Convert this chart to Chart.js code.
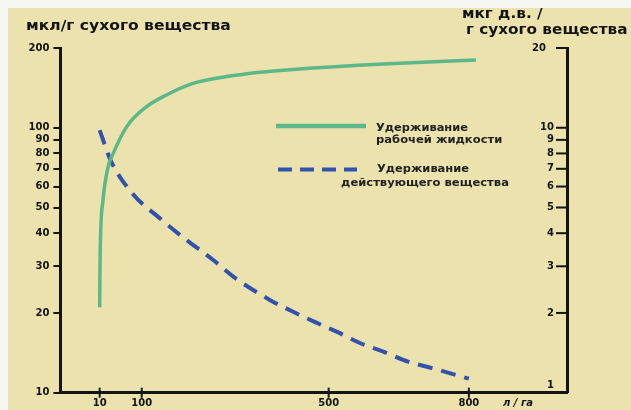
<!DOCTYPE html>
<html>
<head>
<meta charset="utf-8">
<script src="https://cdn.jsdelivr.net/npm/chart.js@4/dist/chart.umd.min.js"></script>
<style>
  html, body { margin: 0; padding: 0; background: #ffffff; }
  #wrap { position: relative; width: 631px; height: 410px; }
</style>
</head>
<body>
<div id="wrap"><canvas id="chart" width="631" height="410"></canvas></div>
<script>
// Application rate, л / га
const rateTicks = [10, 100, 500, 800];
// Left axis: мкл/г сухого вещества
const liquidTicks = [10, 20, 30, 40, 50, 60, 70, 80, 90, 100, 200];
// Right axis: мкг д.в. / г сухого вещества
const activeTicks = [1, 2, 3, 4, 5, 6, 7, 8, 9, 10, 20];

// Удерживание рабочей жидкости (left axis)
const liquidRate      = [10, 11, 17, 28, 39, 68, 110, 153, 210, 282, 353, 424, 617, 815];
const liquidRetention = [21, 33, 53, 71, 80, 101, 120, 133, 147, 156, 162, 166, 174, 180];

// Удерживание действующего вещества (right axis)
const activeRate      = [10, 34, 82, 139, 189, 253, 296, 374, 424, 470, 517, 567, 617, 670, 720, 800];
const activeRetention = [9.8, 7.5, 5.6, 4.55, 3.85, 3.17, 2.74, 2.24, 2.02, 1.85, 1.70, 1.54, 1.43, 1.31, 1.24, 1.13];

const legendLabels = [
  ['Удерживание', 'рабочей жидкости'],
  ['Удерживание', 'действующего вещества']
];
const leftTitle = 'мкл/г сухого вещества';
const rightTitle = ['мкг д.в. /', 'г сухого вещества'];
const rateUnit = 'л / га';

const INK = '#141414';
const GREEN = '#5cb888';
const BLUE = '#3352ad';
const FONT = '"DejaVu Sans", "Liberation Sans", sans-serif';

const toPoints = (xs, ys) => xs.map((x, i) => ({ x: x, y: ys[i] }));

// text drawn slightly widened horizontally
function wideText(ctx, text, x, y, sx) {
  ctx.save();
  ctx.translate(x, y);
  ctx.scale(sx, 1);
  ctx.fillText(text, 0, 0);
  ctx.restore();
}

const decor = {
  id: 'decor',
  beforeDraw(chart) {
    const { ctx, width, height } = chart;
    ctx.save();
    ctx.fillStyle = '#f6f6f3';
    ctx.fillRect(0, 0, width, height);
    ctx.fillStyle = '#ebe2ae';
    ctx.fillRect(8, 8, width - 8, height - 8);
    ctx.restore();
  },
  afterDraw(chart) {
    const { ctx, chartArea: a, scales } = chart;
    const line = (x1, y1, x2, y2) => { ctx.beginPath(); ctx.moveTo(x1, y1); ctx.lineTo(x2, y2); ctx.stroke(); };
    ctx.save();
    ctx.fillStyle = INK;
    ctx.strokeStyle = INK;
    ctx.lineWidth = 2;

    // marks crossing the rate axis
    scales.x.ticks.forEach(t => {
      const px = scales.x.getPixelForValue(t.value);
      line(px, a.bottom - 5, px, a.bottom + 5);
    });

    // right axis: inward marks and labels
    ctx.font = 'bold 10px ' + FONT;
    ctx.textAlign = 'right';
    ctx.textBaseline = 'middle';
    scales.y2.ticks.forEach(t => {
      const py = scales.y2.getPixelForValue(t.value);
      if (t.value > 1) {
        line(a.right - 11, py, a.right, py);
        ctx.fillText(String(t.value), a.right - (t.value >= 20 ? 21 : 13), py);
      } else {
        ctx.fillText(String(t.value), a.right - 13, py - 7);
      }
    });

    // axis titles
    ctx.font = 'bold 14px ' + FONT;
    ctx.textAlign = 'left';
    wideText(ctx, leftTitle, 26, 26, 1.11);
    wideText(ctx, rightTitle[0], 462, 14, 1.09);
    wideText(ctx, rightTitle[1], 466, 30, 1.09);

    ctx.font = 'italic bold 10px ' + FONT;
    ctx.fillText(rateUnit, 503, 403);

    // legend
    ctx.lineWidth = 4.5;
    ctx.strokeStyle = GREEN;
    line(276, 126, 366, 126);
    ctx.lineWidth = 4;
    ctx.strokeStyle = BLUE;
    ctx.setLineDash([14, 8]);
    line(278, 169.5, 357, 169.5);
    ctx.setLineDash([]);

    ctx.font = 'bold 11px ' + FONT;
    ctx.fillStyle = '#222';
    ctx.textAlign = 'left';
    wideText(ctx, legendLabels[0][0], 376, 128, 1.04);
    wideText(ctx, legendLabels[0][1], 376, 140, 1.05);
    ctx.textAlign = 'center';
    wideText(ctx, legendLabels[1][0], 423, 169, 1.04);
    wideText(ctx, legendLabels[1][1], 425, 183, 1.05);
    ctx.restore();
  }
};

const tickFont = { family: FONT, weight: 'bold', size: 10 };

new Chart(document.getElementById('chart'), {
  type: 'line',
  data: {
    datasets: [
      {
        label: legendLabels[0].join(' '),
        data: toPoints(liquidRate, liquidRetention),
        yAxisID: 'y',
        borderColor: GREEN,
        borderWidth: 3.5,
        pointRadius: 0,
        cubicInterpolationMode: 'monotone',
        fill: false
      },
      {
        label: legendLabels[1].join(' '),
        data: toPoints(activeRate, activeRetention),
        yAxisID: 'y2',
        borderColor: BLUE,
        borderWidth: 4,
        borderDash: [15, 9],
        pointRadius: 0,
        cubicInterpolationMode: 'monotone',
        fill: false
      }
    ]
  },
  options: {
    responsive: false,
    animation: false,
    events: [],
    layout: { autoPadding: false, padding: { top: 48, left: 0, right: 0, bottom: 0 } },
    plugins: { legend: { display: false }, tooltip: { enabled: false } },
    scales: {
      x: {
        type: 'linear',
        position: 'bottom',
        min: -74,
        max: 1010,
        afterBuildTicks: s => { s.ticks = rateTicks.map(v => ({ value: v })); },
        afterFit: s => { s.height = 17.3; },
        grid: { display: false, drawTicks: false },
        border: { display: true, color: INK, width: 3 },
        ticks: { font: tickFont, color: INK, padding: 5, maxRotation: 0, autoSkip: false, callback: v => String(v) }
      },
      y: {
        type: 'logarithmic',
        position: 'left',
        min: 10,
        max: 200,
        afterBuildTicks: s => { s.ticks = liquidTicks.map(v => ({ value: v })); },
        afterFit: s => { s.width = 60.4; },
        grid: { display: true, drawOnChartArea: false, drawTicks: true, tickLength: 7, lineWidth: 2, color: INK },
        border: { display: true, color: INK, width: 3 },
        ticks: { font: tickFont, color: INK, padding: 4, autoSkip: false, callback: v => String(v) }
      },
      y2: {
        type: 'logarithmic',
        position: 'right',
        min: 1,
        max: 20,
        afterBuildTicks: s => { s.ticks = activeTicks.map(v => ({ value: v })); },
        afterFit: s => { s.width = 64; },
        grid: { display: false },
        border: { display: true, color: INK, width: 3 },
        ticks: { display: false }
      }
    }
  },
  plugins: [decor]
});
</script>
</body>
</html>
